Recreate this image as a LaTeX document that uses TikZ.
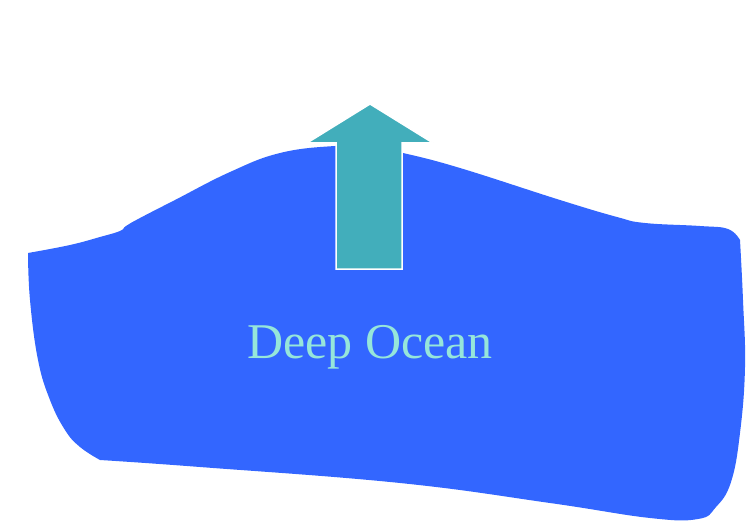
\documentclass[tikz,border=0pt]{standalone}
\usepackage{fontspec}
\setmainfont{Liberation Serif}
\usepackage{tikz}
\usetikzlibrary{positioning}
\definecolor{oceanblue}{RGB}{51, 102, 255}
\definecolor{arrowteal}{RGB}{66, 174, 187}
\definecolor{labelaqua}{RGB}{150, 230, 218}
\tikzstyle{ocean} = [fill=oceanblue]
\tikzstyle{uparrow} = [fill=arrowteal, draw=white, line width=1.5pt, line join=miter]
\tikzstyle{label} = [text=labelaqua, font=\fontsize{50}{60}\selectfont, inner sep=0pt]

\begin{document}
\begin{tikzpicture}[x=1pt, y=-1pt]
    \useasboundingbox (0,0) rectangle (747,524);
    % Water body
    \fill [ocean] plot[smooth, tension=0.7] coordinates {(28,253) (70,245) (100,237) (120,231) (126,226) (140,218) (175,200) (230,172) (280,153) (335,146) (370,147) (403,153) (460,168) (560,200) (617,217) (645,223) (700,226) (728,229) (740,240)}
        -- plot[smooth, tension=0.7] coordinates {(740,240) (743,300) (745,367) (740,433) (731,482) (716,507) (698,519) (650,518) (550,503) (400,483) (200,467) (100,460)}
        -- plot[smooth, tension=0.7] coordinates {(100,460) (80,447) (65,430) (50,400) (38,360) (30,300) (28,253)} -- cycle;
    % Rising arrow
    \draw [uparrow] (336,269) -- (336,143) -- (307,143) -- (370,104) -- (433,143) -- (402,143) -- (402,269) -- cycle;
    % Label
    \node (deep) [label, anchor=base] at (370,358) {Deep Ocean};
\end{tikzpicture}
\end{document}
